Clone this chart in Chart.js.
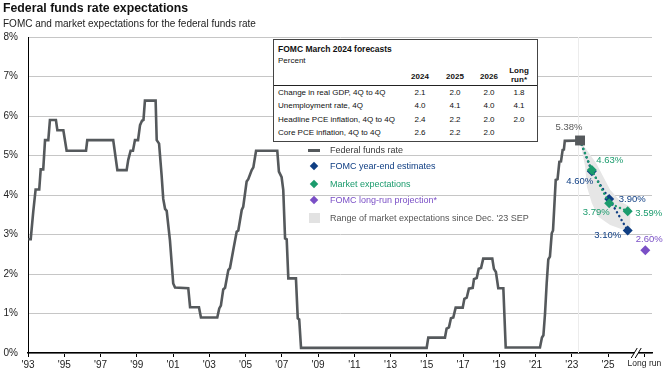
<!DOCTYPE html>
<html>
<head>
<meta charset="utf-8">
<script src="https://cdn.jsdelivr.net/npm/chart.js@4.4.1/dist/chart.umd.min.js"></script>
<style>
  body { margin: 0; background: #fff; font-family: "Liberation Sans", Arial, sans-serif; }
  #wrap { position: relative; width: 667px; height: 374px; overflow: hidden; }
  canvas { position: absolute; left: 0; top: 0; }
  .t { position: absolute; white-space: nowrap; line-height: 1; transform: translateY(-50%); }
  .c { transform: translate(-50%, -50%); text-align: center; }
  #title { left: 3px; top: 8px; font-size: 12.3px; font-weight: bold; color: #111; }
  #subtitle { left: 3px; top: 24px; font-size: 10px; color: #222; }
  #table { position: absolute; left: 273px; top: 39px; width: 263px; height: 101px; border: 1px solid #444; background: #fff; font-size: 8px; color: #111; }
  #table .rule { position: absolute; left: 0; right: 0; top: 45px; border-top: 1px solid #222; }
  .legend { position: absolute; font-size: 9px; }
  .mk { position: absolute; }
  .dia { width: 6px; height: 6px; transform: translate(-50%, -50%) rotate(45deg); }
</style>
</head>
<body>
<div id="wrap">
  <canvas id="myChart" width="667" height="374"></canvas>
  <div class="t" id="title">Federal funds rate expectations</div>
  <div class="t" id="subtitle">FOMC and market expectations for the federal funds rate</div>
  <div id="table"></div>
  <div id="legend"></div>
</div>
<script>
// 実効FF金利（画像から読み取り、x は軸上の年位置）
const fundsX = [
  1993.02, 1993.15, 1993.29, 1993.42, 1993.62, 1993.70, 1993.84, 1993.94, 1994.12, 1994.21,
  1994.54, 1994.62, 1994.95, 1995.13, 1996.20, 1996.27, 1997.70, 1997.93, 1998.44, 1998.53,
  1998.66, 1998.79, 1998.90, 1999.07, 1999.18, 1999.29, 1999.37, 1999.45, 2000.04, 2000.10,
  2000.23, 2000.37, 2000.46, 2000.56, 2000.65, 2000.83, 2001.01, 2001.11, 2001.84, 2001.94,
  2002.43, 2002.54, 2003.44, 2003.55, 2003.64, 2003.77, 2003.87, 2004.05, 2004.14, 2004.32,
  2004.51, 2004.60, 2004.79, 2004.87, 2005.06, 2005.15, 2005.34, 2005.43, 2005.58, 2006.75,
  2006.84, 2006.99, 2007.08, 2007.18, 2007.27, 2007.36, 2007.78, 2007.88, 2007.96, 2008.06,
  2014.99, 2015.08, 2016.00, 2016.09, 2016.22, 2016.33, 2016.46, 2016.59, 2016.98, 2017.07,
  2017.20, 2017.32, 2017.53, 2017.60, 2017.75, 2017.86, 2017.99, 2018.11, 2018.61, 2018.70,
  2018.81, 2018.94, 2019.22, 2019.35, 2021.24, 2021.35, 2021.43, 2021.52, 2021.61, 2021.70,
  2021.79, 2021.89, 2021.96, 2022.03, 2022.11, 2022.21, 2022.31, 2022.40, 2022.49, 2022.56,
  2022.61, 2023.45
];
const fundsRate = [
  2.88, 2.88, 3.58, 4.14, 4.14, 4.65, 4.65, 5.39, 5.39, 5.90,
  5.90, 5.64, 5.64, 5.12, 5.12, 5.39, 5.39, 4.63, 4.63, 4.89,
  5.12, 5.12, 5.39, 5.39, 5.77, 5.88, 5.90, 6.39, 6.39, 5.39,
  5.30, 4.50, 3.90, 3.65, 3.60, 2.85, 1.76, 1.66, 1.64, 1.16,
  1.16, 0.90, 0.90, 1.13, 1.20, 1.61, 1.65, 2.10, 2.15, 2.60,
  3.07, 3.10, 3.62, 3.70, 4.34, 4.40, 4.63, 4.70, 5.12, 5.12,
  4.59, 4.45, 4.13, 2.90, 2.88, 1.89, 1.89, 0.88, 0.85, 0.13,
  0.13, 0.39, 0.39, 0.62, 0.65, 0.88, 0.90, 1.15, 1.15, 1.37,
  1.40, 1.63, 1.65, 1.87, 1.90, 2.13, 2.15, 2.39, 2.39, 2.13,
  2.05, 1.64, 1.64, 0.14, 0.14, 0.39, 0.45, 1.00, 1.76, 2.37,
  2.44, 3.03, 3.10, 3.70, 4.38, 4.40, 4.84, 4.85, 5.14, 5.15,
  5.37, 5.38
];

// 現在値と見通し
const currentX = 2023.45;
const currentRate = 5.38;
const projX = [2024.10, 2025.06, 2026.08];
const fomcEstimates = [4.60, 3.90, 3.10];
const marketExpect = [4.63, 3.79, 3.59];
const longRunX = 2027.05;
const longRunRate = 2.60;

// 市場予想レンジ（多角形）
const rangeX = [2023.45, 2024.35, 2025.11, 2025.70, 2026.22, 2026.22, 2025.76, 2025.11, 2024.46, 2024.10, 2023.83, 2023.73, 2023.45];
const rangeY = [5.38, 4.80, 4.13, 3.83, 3.70, 3.10, 3.13, 3.24, 3.45, 3.80, 4.21, 4.72, 5.38];

// 軸
const tickYears = [1993, 1995, 1997, 1999, 2001, 2003, 2005, 2007, 2009, 2011, 2013, 2015, 2017, 2019, 2021, 2023, 2025, 2027];
const tickLabels = ["'93", "'95", "'97", "'99", "'01", "'03", "'05", "'07", "'09", "'11", "'13", "'15", "'17", "'19", "'21", "'23", "'25", "Long run"];

// 表
const tableYears = ['2024', '2025', '2026'];
const tableRows = ['Change in real GDP, 4Q to 4Q', 'Unemployment rate, 4Q', 'Headline PCE inflation, 4Q to 4Q', 'Core PCE inflation, 4Q to 4Q'];
const tableValues = [
  ['2.1', '2.0', '2.0', '1.8'],
  ['4.0', '4.1', '4.0', '4.1'],
  ['2.4', '2.2', '2.0', '2.0'],
  ['2.6', '2.2', '2.0', '']
];

const GREY = '#55595c';
const BLUE = '#0f3e83';
const GREEN = '#1b9b6d';
const PURPLE = '#7a4fc6';

const pts = (xs, ys) => xs.map((x, i) => ({ x: x, y: ys[i] }));

// 表を組み立てる（位置は表ボックス内の座標）
function buildTable() {
  const box = document.getElementById('table');
  const colX = [146, 181, 215];
  let html = '';
  html += `<div class="t" style="left:4px;top:9px;font-size:8.5px;font-weight:bold">FOMC March 2024 forecasts</div>`;
  html += `<div class="t" style="left:4px;top:21px">Percent</div>`;
  tableYears.forEach((y, i) => {
    html += `<div class="t c" style="left:${colX[i]}px;top:37px;font-weight:bold">${y}</div>`;
  });
  html += `<div class="t c" style="left:245px;top:31px;font-weight:bold">Long</div>`;
  html += `<div class="t c" style="left:245px;top:40px;font-weight:bold">run*</div>`;
  html += `<div class="rule"></div>`;
  tableRows.forEach((r, ri) => {
    const top = 53 + ri * 13.4;
    html += `<div class="t" style="left:4px;top:${top}px">${r}</div>`;
    tableValues[ri].forEach((v, ci) => {
      const cx = ci < 3 ? colX[ci] : 245;
      html += `<div class="t c" style="left:${cx}px;top:${top}px">${v}</div>`;
    });
  });
  box.innerHTML = html;
}

// 凡例
function buildLegend() {
  const items = [
    { text: 'Federal funds rate', color: '#3a3a3a', mark: 'line', markColor: GREY, y: 150 },
    { text: 'FOMC  year-end estimates', color: BLUE, mark: 'dia', markColor: BLUE, y: 165.5 },
    { text: 'Market expectations', color: GREEN, mark: 'dia', markColor: GREEN, y: 184 },
    { text: 'FOMC  long-run projection*', color: PURPLE, mark: 'dia', markColor: PURPLE, y: 200 },
    { text: "Range  of  market expectations  since  Dec.  '23 SEP", color: '#555', mark: 'box', markColor: '#e2e2e2', y: 218 }
  ];
  let html = '';
  items.forEach(it => {
    if (it.mark === 'line') {
      html += `<div class="mk" style="left:308px;top:${it.y - 1.5}px;width:12px;height:3px;background:${it.markColor}"></div>`;
    } else if (it.mark === 'dia') {
      html += `<div class="mk dia" style="left:314px;top:${it.y}px;background:${it.markColor}"></div>`;
    } else {
      html += `<div class="mk" style="left:309px;top:${it.y - 5}px;width:11px;height:10px;background:${it.markColor}"></div>`;
    }
    html += `<div class="t legend" style="left:330px;top:${it.y}px;color:${it.color}">${it.text}</div>`;
  });
  document.getElementById('legend').innerHTML = html;
}

// 数値ラベル（点からのずれ）
const pointLabels = [
  { x: currentX, y: currentRate, dx: -11, dy: -13, color: '#595959' },
  { x: projX[0], y: marketExpect[0], dx: 18, dy: -10, color: GREEN },
  { x: projX[0], y: fomcEstimates[0], dx: -12, dy: 10, color: BLUE },
  { x: projX[1], y: fomcEstimates[1], dx: 23, dy: 0, color: BLUE },
  { x: projX[1], y: marketExpect[1], dx: -13, dy: 9, color: GREEN },
  { x: projX[2], y: marketExpect[2], dx: 21, dy: 2, color: GREEN },
  { x: projX[2], y: fomcEstimates[2], dx: -20, dy: 5, color: BLUE },
  { x: longRunX, y: longRunRate, dx: 4, dy: -11, color: PURPLE }
];

const extrasPlugin = {
  id: 'extras',
  beforeDatasetsDraw(chart) {
    const { ctx, chartArea, scales: { x } } = chart;
    const px = Math.round(x.getPixelForValue(2023.35)) + 0.5;
    ctx.save();
    ctx.strokeStyle = '#ececec';
    ctx.lineWidth = 1;
    ctx.beginPath();
    ctx.moveTo(px, chartArea.top);
    ctx.lineTo(px, chartArea.bottom);
    ctx.stroke();
    ctx.restore();
  },
  afterDatasetsDraw(chart) {
    const { ctx, scales: { x, y } } = chart;
    ctx.save();
    ctx.font = '9.5px "Liberation Sans", Arial, sans-serif';
    ctx.textAlign = 'center';
    ctx.textBaseline = 'middle';
    pointLabels.forEach(l => {
      ctx.fillStyle = l.color;
      ctx.fillText(l.y.toFixed(2) + '%', x.getPixelForValue(l.x) + l.dx, y.getPixelForValue(l.y) + l.dy);
    });
    ctx.restore();
  },
  afterDraw(chart) {
    // 軸の省略記号 //
    const { ctx, scales: { x, y } } = chart;
    const bx = x.getPixelForValue(2026.55);
    const by = y.getPixelForValue(0);
    ctx.save();
    ctx.fillStyle = '#fff';
    ctx.fillRect(bx - 2, by - 2, 4, 4);
    ctx.strokeStyle = '#000';
    ctx.lineWidth = 1;
    [-2, 2].forEach(o => {
      ctx.beginPath();
      ctx.moveTo(bx + o - 3, by + 5);
      ctx.lineTo(bx + o + 3, by - 5);
      ctx.stroke();
    });
    ctx.restore();
  }
};

buildTable();
buildLegend();

const ctx = document.getElementById('myChart').getContext('2d');
new Chart(ctx, {
  type: 'line',
  data: {
    datasets: [
      {
        label: 'Range',
        data: pts(rangeX, rangeY),
        fill: 'shape',
        backgroundColor: '#e6e6e6',
        borderWidth: 0,
        pointRadius: 0,
        order: 10
      },
      {
        label: 'Federal funds rate',
        data: pts(fundsX, fundsRate),
        borderColor: GREY,
        borderWidth: 2.6,
        pointRadius: 0,
        tension: 0,
        order: 5
      },
      {
        label: 'FOMC year-end estimates',
        data: pts([currentX].concat(projX), [currentRate].concat(fomcEstimates)),
        borderColor: BLUE,
        borderWidth: 2.4,
        borderDash: [0.1, 4.4],
        borderCapStyle: 'round',
        pointStyle: 'rectRot',
        pointRadius: c => c.dataIndex === 0 ? 0 : 5,
        pointBackgroundColor: BLUE,
        pointBorderWidth: 0,
        order: 3
      },
      {
        label: 'Market expectations',
        data: pts([currentX].concat(projX), [currentRate].concat(marketExpect)),
        borderColor: GREEN,
        borderWidth: 2.4,
        borderDash: [0.1, 4.4],
        borderCapStyle: 'round',
        pointStyle: 'rectRot',
        pointRadius: c => c.dataIndex === 0 ? 0 : 5,
        pointBackgroundColor: GREEN,
        pointBorderWidth: 0,
        order: 2
      },
      {
        label: 'Current',
        data: [{ x: currentX, y: currentRate }],
        pointStyle: 'rect',
        pointRadius: 7,
        pointBackgroundColor: GREY,
        pointBorderWidth: 0,
        showLine: false,
        order: 1
      },
      {
        label: 'FOMC long-run projection',
        data: [{ x: longRunX, y: longRunRate }],
        pointStyle: 'rectRot',
        pointRadius: 5,
        pointBackgroundColor: PURPLE,
        pointBorderWidth: 0,
        showLine: false,
        order: 1
      }
    ]
  },
  options: {
    responsive: false,
    devicePixelRatio: 1,
    animation: false,
    layout: { padding: { top: 37, right: 15, left: 0, bottom: 0 } },
    plugins: {
      legend: { display: false },
      tooltip: { enabled: false }
    },
    scales: {
      x: {
        type: 'linear',
        min: 1993,
        max: 2027.42,
        afterBuildTicks: s => { s.ticks = tickYears.map(v => ({ value: v })); },
        afterFit: s => { s.height = 21; },
        ticks: {
          autoSkip: false,
          maxRotation: 0,
          padding: 2,
          color: '#222',
          font: c => ({ family: '"Liberation Sans", Arial, sans-serif', size: c.index === tickYears.length - 1 ? 8.5 : 10 }),
          callback: (v, i) => tickLabels[i]
        },
        grid: { drawOnChartArea: false, drawTicks: true, tickLength: 4, color: '#000' },
        border: { color: '#000', width: 1.5 }
      },
      y: {
        min: 0,
        max: 8,
        afterFit: s => { s.width = 28; },
        ticks: {
          stepSize: 1,
          padding: 10,
          color: '#222',
          font: { family: '"Liberation Sans", Arial, sans-serif', size: 10 },
          callback: v => v + '%'
        },
        grid: { color: '#c6c6c6', drawTicks: false },
        border: { color: '#000', width: 1 }
      }
    }
  },
  plugins: [extrasPlugin]
});
</script>
</body>
</html>
